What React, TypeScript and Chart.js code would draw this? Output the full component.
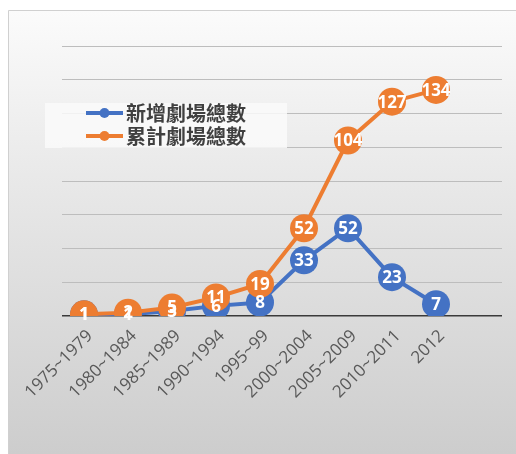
import React, { useEffect, useRef } from "react";
import { Chart, registerables } from "chart.js";

Chart.register(...registerables);

const categories = [
  "1975~1979",
  "1980~1984",
  "1985~1989",
  "1990~1994",
  "1995~99",
  "2000~2004",
  "2005~2009",
  "2010~2011",
  "2012",
  "",
];
const seriesNames = ["新增劇場總數", "累計劇場總數"];
const newTheaters = [1, 1, 3, 6, 8, 33, 52, 23, 7, null];
const cumulativeTheaters = [1, 2, 5, 11, 19, 52, 104, 127, 134, null];
const seriesColors = ["#4472C4", "#ED7D31"];
const yMax = 160;
const yStep = 20;

const backgroundPlugin = {
  id: "bgPlugin",
  beforeDraw(chart: any) {
    const { ctx, width, height } = chart;
    ctx.save();
    ctx.fillStyle = "#ffffff";
    ctx.fillRect(0, 0, width, height);
    const g = ctx.createLinearGradient(0, 10, 0, height);
    g.addColorStop(0, "#FBFBFB");
    g.addColorStop(0.35, "#EAEAEA");
    g.addColorStop(1, "#CDCDCD");
    ctx.fillStyle = g;
    ctx.fillRect(8, 10, width - 8, height - 10);
    ctx.strokeStyle = "#D0D0D0";
    ctx.lineWidth = 1;
    ctx.beginPath();
    ctx.moveTo(8.5, height);
    ctx.lineTo(8.5, 10.5);
    ctx.lineTo(width, 10.5);
    ctx.stroke();
    ctx.restore();
  },
};

const labelPlugin = {
  id: "pointLabels",
  afterDatasetsDraw(chart: any) {
    const { ctx } = chart;
    ctx.save();
    ctx.font = "bold 17px 'Open Sans', sans-serif";
    ctx.fillStyle = "#ffffff";
    ctx.textAlign = "center";
    ctx.textBaseline = "middle";
    chart.data.datasets.forEach((ds: any, di: number) => {
      const meta = chart.getDatasetMeta(di);
      meta.data.forEach((pt: any, i: number) => {
        const v = ds.data[i];
        if (v === null || v === undefined) return;
        ctx.fillText(String(v), pt.x, pt.y + 1);
      });
    });
    ctx.restore();
  },
};

const legendPlugin = {
  id: "customLegend",
  afterDraw(chart: any) {
    const { ctx } = chart;
    ctx.save();
    ctx.fillStyle = "rgba(250,250,250,0.85)";
    ctx.fillRect(45, 103, 242, 45);
    const rows = [113, 136];
    chart.data.datasets.forEach((ds: any, i: number) => {
      const y = rows[i];
      ctx.strokeStyle = ds.borderColor;
      ctx.lineWidth = 4;
      ctx.beginPath();
      ctx.moveTo(86, y);
      ctx.lineTo(123, y);
      ctx.stroke();
      ctx.fillStyle = ds.borderColor;
      ctx.beginPath();
      ctx.arc(104.5, y, 5, 0, Math.PI * 2);
      ctx.fill();
      ctx.fillStyle = "#404040";
      ctx.font = "bold 20px 'Noto Sans CJK TC', sans-serif";
      ctx.textAlign = "left";
      ctx.textBaseline = "middle";
      ctx.fillText(ds.label, 126, y);
    });
    ctx.restore();
  },
};

export default function App() {
  const ref = useRef<HTMLCanvasElement | null>(null);
  useEffect(() => {
    if (!ref.current) return;
    const chart = new Chart(ref.current, {
      type: "line",
      data: {
        labels: categories,
        datasets: [
          {
            label: seriesNames[0],
            data: newTheaters,
            order: 2,
            borderColor: seriesColors[0],
            backgroundColor: seriesColors[0],
            borderWidth: 4,
            pointRadius: 14,
            pointBorderWidth: 0,
            pointBackgroundColor: seriesColors[0],
            tension: 0,
          },
          {
            label: seriesNames[1],
            data: cumulativeTheaters,
            order: 1,
            borderColor: seriesColors[1],
            backgroundColor: seriesColors[1],
            borderWidth: 4,
            pointRadius: 14,
            pointBorderWidth: 0,
            pointBackgroundColor: seriesColors[1],
            tension: 0,
          },
        ],
      },
      options: {
        responsive: false,
        animation: false,
        layout: { padding: { left: 62, right: 0, top: 46, bottom: 0 } },
        plugins: {
          legend: { display: false },
          tooltip: { enabled: false },
        },
        scales: {
          x: {
            offset: true,
            grid: { display: false },
            border: { display: false },
            ticks: {
              minRotation: 45,
              maxRotation: 45,
              autoSkip: false,
              color: "#595959",
              font: { family: "'Open Sans', sans-serif", size: 17 },
              padding: 2,
              labelOffset: 6,
            },
            afterFit: (scale: any) => {
              scale.height = 138;
            },
          },
          y: {
            min: 0,
            max: yMax,
            ticks: { display: false, stepSize: yStep },
            border: { display: false },
            grid: {
              drawTicks: false,
              color: (c: any) => (c.tick && c.tick.value === 0 ? "#3A3A3A" : "#BDBDBD"),
              lineWidth: (c: any) => (c.tick && c.tick.value === 0 ? 1.6 : 1),
            },
            afterFit: (scale: any) => {
              scale.width = 0;
            },
          },
        },
      },
      plugins: [backgroundPlugin, labelPlugin, legendPlugin],
    });
    return () => chart.destroy();
  }, []);
  return (
    <div style={{ position: "fixed", left: 0, top: 0, width: 516, height: 454 }}>
      <canvas ref={ref} width={516} height={454} style={{ display: "block" }} />
    </div>
  );
}
